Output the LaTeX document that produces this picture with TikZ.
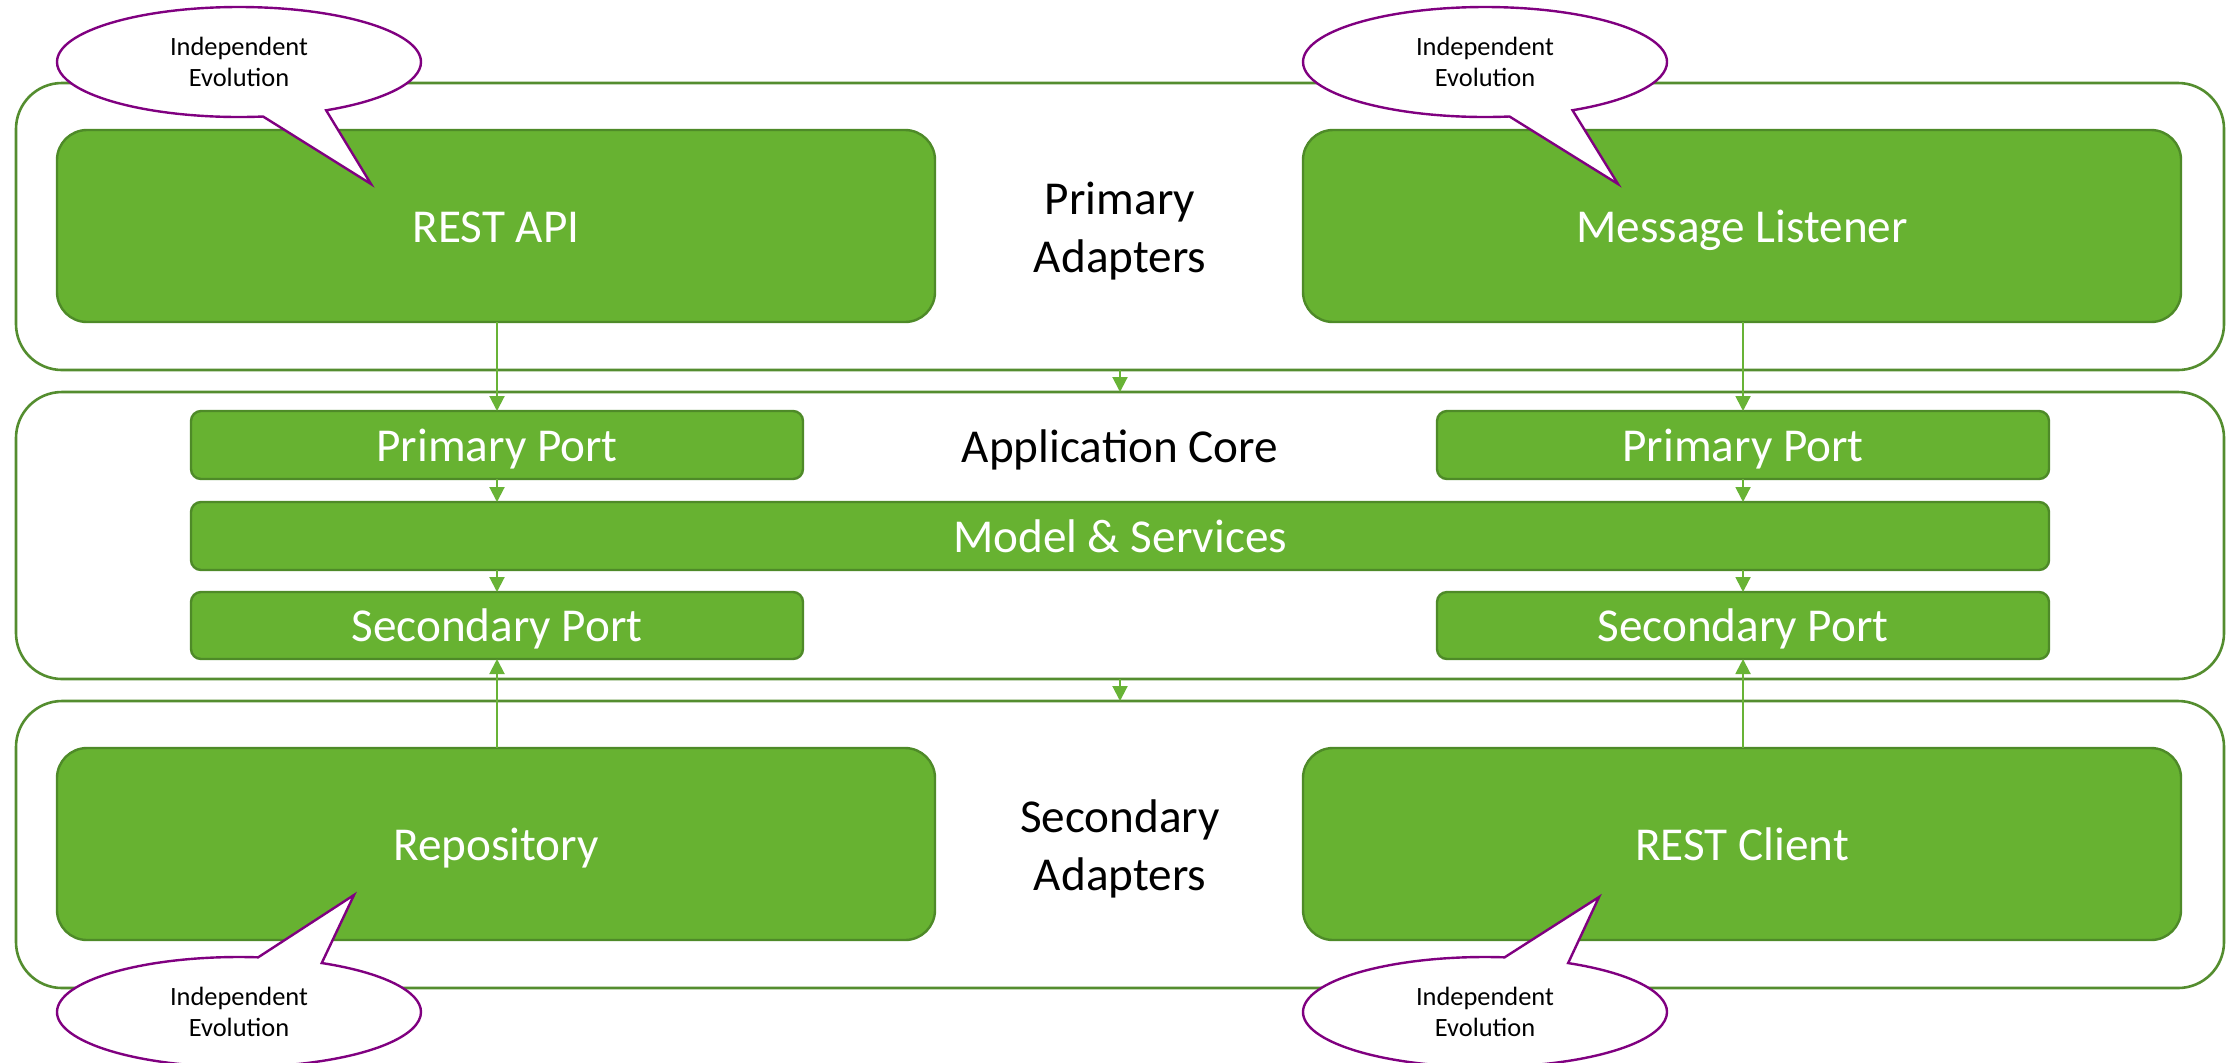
\documentclass[tikz,border=0pt]{standalone}
\usepackage{fontspec}
\setmainfont{Carlito}
\usetikzlibrary{arrows.meta,shapes.callouts}
\definecolor{gfill}{HTML}{67B231}
\definecolor{gline}{HTML}{4E8A28}
\definecolor{lline}{HTML}{548D2F}
\definecolor{aline}{HTML}{68B336}
\definecolor{cpurple}{HTML}{800080}
\begin{document}
\begin{tikzpicture}[x=0.5pt,y=-0.5pt,
  every node/.style={outer sep=0pt},
  layer/.style={draw=lline, line width=1.3pt, fill=white, rounded corners=23pt, minimum width=1104pt, minimum height=143.5pt, inner sep=0pt, anchor=north west},
  bigbox/.style={draw=gline, line width=1.2pt, fill=gfill, rounded corners=15pt, minimum width=439pt, minimum height=96pt, inner sep=0pt, anchor=north west, text=white, text height=18pt, text depth=2pt, font=\fontsize{23.6}{28.8}\selectfont},
  port/.style={bigbox, rounded corners=5pt, minimum width=306pt, minimum height=34pt},
  label/.style={font=\fontsize{23.6}{28.8}\selectfont, align=center, text=black},
  arr/.style={draw=aline, line width=1pt, -{Triangle[length=7.5pt,width=7.5pt]}},
  bubble/.style={ellipse callout, draw=cpurple, line width=1.2pt, fill=white, minimum width=182pt, minimum height=55pt, inner sep=0pt, callout pointer arc=21, align=center, text=black, font=\fontsize{13.2}{15.5}\selectfont}
]
\useasboundingbox (0,0) rectangle (2236,1062);
% layers
\node[layer] (l1) at (16,83) {};
\node[layer] (l2) at (16,392) {};
\node[layer] (l3) at (16,701) {};
% adapters
\node[bigbox] (restapi) at (57,130) {REST API};
\node[bigbox] (msg) at (1303,130) {Message Listener};
\node[bigbox] (repo) at (57,748) {Repository};
\node[bigbox] (rclient) at (1303,748) {REST Client};
% core
\node[port] (ppl) at (191,411) {Primary Port};
\node[port] (ppr) at (1437,411) {Primary Port};
\node[port, minimum width=929pt] (model) at (191,502) {Model \& Services};
\node[port, minimum height=33.5pt] (spl) at (191,592) {Secondary Port};
\node[port, minimum height=33.5pt] (spr) at (1437,592) {Secondary Port};
% labels
\node[label] (t1) at (1120,231) {Primary\\Adapters};
\node[label, text height=18pt, text depth=2pt] (t2) at (1120,446) {Application Core};
\node[label] (t3) at (1120,849) {Secondary\\Adapters};
% arrows
\draw[arr] (ppl.north |- restapi.south) -- (ppl.north);
\draw[arr] (ppl.south) -- (ppl.south |- model.north);
\draw[arr] (ppl.south |- model.south) -- (spl.north);
\draw[arr] (spl.south |- repo.north) -- (spl.south);
\draw[arr] (ppr.north |- msg.south) -- (ppr.north);
\draw[arr] (ppr.south) -- (ppr.south |- model.north);
\draw[arr] (ppr.south |- model.south) -- (spr.north);
\draw[arr] (spr.south |- rclient.north) -- (spr.south);
\draw[arr] (l1.south) -- (l2.north);
\draw[arr] (l2.south) -- (l3.north);
% callouts
\node[bubble, callout absolute pointer={(371,184)}] (c1) at (239,62) {Independent\\Evolution};
\node[bubble, callout absolute pointer={(1618,184)}] (c2) at (1485,62) {Independent\\Evolution};
\node[bubble, callout absolute pointer={(354,895)}] (c3) at (239,1012) {Independent\\Evolution};
\node[bubble, callout absolute pointer={(1599,897)}] (c4) at (1485,1012) {Independent\\Evolution};
\end{tikzpicture}
\end{document}
